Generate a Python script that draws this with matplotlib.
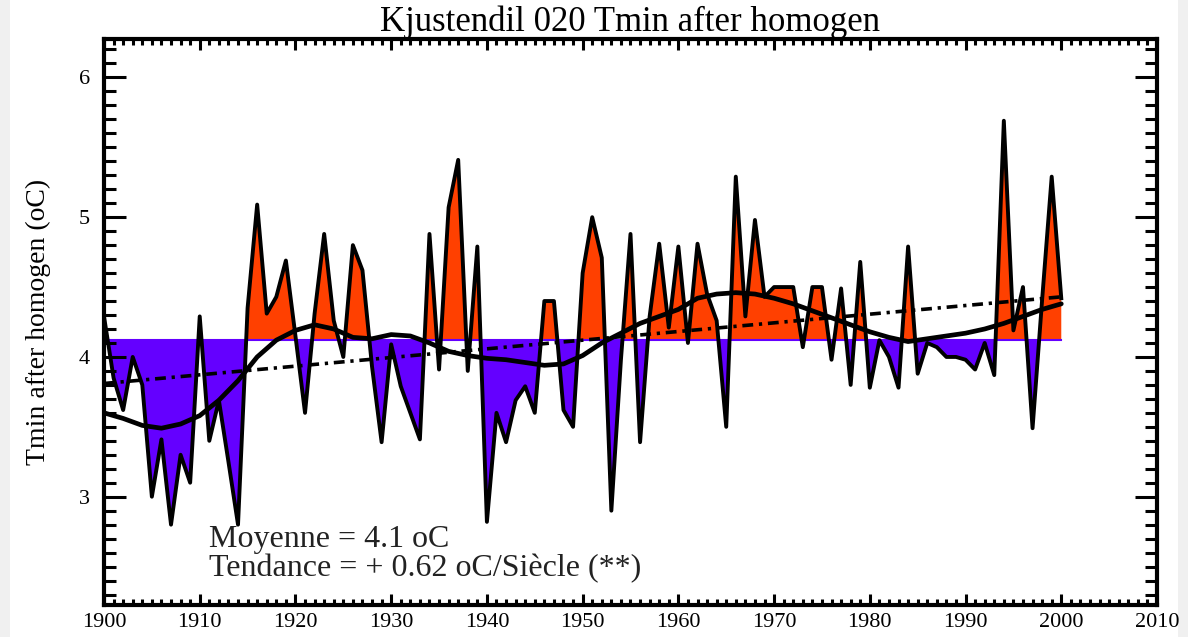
import numpy as np
import matplotlib
matplotlib.use("Agg")
from matplotlib import pyplot as plt
from matplotlib.ticker import MultipleLocator
from matplotlib.patches import Rectangle

# Yearly Tmin series (oC)
years = np.arange(1900, 2001)
tmin = [4.29, 3.85, 3.62, 4.00, 3.80, 3.00, 3.41, 2.80, 3.30, 3.10,
        4.29, 3.40, 3.69, 3.25, 2.80, 4.35, 5.09, 4.31, 4.43, 4.69,
        4.15, 3.60, 4.31, 4.88, 4.26, 4.00, 4.80, 4.62, 3.93, 3.39,
        4.09, 3.79, 3.60, 3.41, 4.88, 3.91, 5.07, 5.41, 3.90, 4.79,
        2.82, 3.60, 3.39, 3.69, 3.79, 3.60, 4.40, 4.40, 3.62, 3.50,
        4.60, 5.00, 4.71, 2.90, 3.98, 4.88, 3.39, 4.29, 4.81, 4.21,
        4.79, 4.10, 4.81, 4.45, 4.26, 3.50, 5.29, 4.29, 4.98, 4.43,
        4.50, 4.50, 4.50, 4.07, 4.50, 4.50, 3.98, 4.49, 3.80, 4.68,
        3.78, 4.12, 4.00, 3.78, 4.79, 3.88, 4.10, 4.07, 4.00, 4.00,
        3.98, 3.91, 4.10, 3.87, 5.69, 4.19, 4.50, 3.49, 4.41, 5.29,
        4.42]

# Low-pass curve
smooth_years = np.arange(1900, 2001, 2)
smooth = [3.60, 3.56, 3.51, 3.49, 3.52, 3.58, 3.69, 3.83, 4.00, 4.12,
          4.19, 4.23, 4.20, 4.14, 4.13, 4.16, 4.15, 4.10, 4.04, 4.01,
          3.99, 3.98, 3.96, 3.94, 3.95, 4.01, 4.10, 4.17, 4.24, 4.29,
          4.34, 4.42, 4.45, 4.46, 4.45, 4.42, 4.38, 4.33, 4.28, 4.23,
          4.18, 4.14, 4.11, 4.13, 4.15, 4.17, 4.20, 4.24, 4.29, 4.34,
          4.38]

mean_value = 4.12
trend_per_century = 0.62

tmin = np.array(tmin)
trend = mean_value + trend_per_century / 100.0 * (years - years.mean())

red = '#FF4000'
blue = '#6400FF'

plt.rcParams['font.family'] = ['Liberation Serif', 'DejaVu Serif']

fig = plt.figure(figsize=(11.88, 6.37), dpi=100)
fig.patch.set_facecolor('#f0f0f0')
fig.patches.append(Rectangle((10 / 1188, 0), 1168 / 1188, 1, transform=fig.transFigure,
                             facecolor='white', edgecolor='none', zorder=-10))
ax = fig.add_axes([104 / 1188, 32 / 637, 1053 / 1188, 566 / 637])
ax.set_facecolor('none')

ax.fill_between(years, tmin, mean_value, where=tmin >= mean_value,
                interpolate=True, color=red, linewidth=0)
ax.fill_between(years, tmin, mean_value, where=tmin <= mean_value,
                interpolate=True, color=blue, linewidth=0)
ax.plot([years[0], years[-1]], [mean_value, mean_value], color=blue, lw=1.5)
ax.plot(years, tmin, color='black', lw=2.8)
ax.plot(smooth_years, smooth, color='black', lw=3.4, solid_capstyle='round')
ax.plot(years, trend, color='black', lw=2.6, dashes=(3, 1.6, 0.9, 1.6))

ax.set_xlim(1900, 2010)
ax.set_ylim(2.225, 6.275)
ax.xaxis.set_major_locator(MultipleLocator(10))
ax.xaxis.set_minor_locator(MultipleLocator(1))
ax.yaxis.set_major_locator(MultipleLocator(1))
ax.yaxis.set_minor_locator(MultipleLocator(0.1))
ax.set_yticks([3, 4, 5, 6])

ax.tick_params(axis='both', which='both', direction='in', top=True, right=True,
               width=2.2, color='black', labelsize=16)
ax.tick_params(axis='x', which='major', length=8, pad=6)
ax.tick_params(axis='x', which='minor', length=4.5)
ax.tick_params(axis='y', which='major', length=16, pad=10)
ax.tick_params(axis='y', which='minor', length=8.5)
for sp in ax.spines.values():
    sp.set_linewidth(3)

ax.set_title('Kjustendil 020 Tmin after homogen', fontsize=25, pad=3)
ax.set_ylabel('Tmin after homogen (oC)', fontsize=20, labelpad=20)

ax.text(1911, 2.64, f'Moyenne = {mean_value:.1f} oC', fontsize=23, color='#222222')
ax.text(1911, 2.43, f'Tendance = + {trend_per_century:.2f} oC/Siècle (**)',
        fontsize=23, color='#222222')

plt.savefig('out.png', dpi=100)
